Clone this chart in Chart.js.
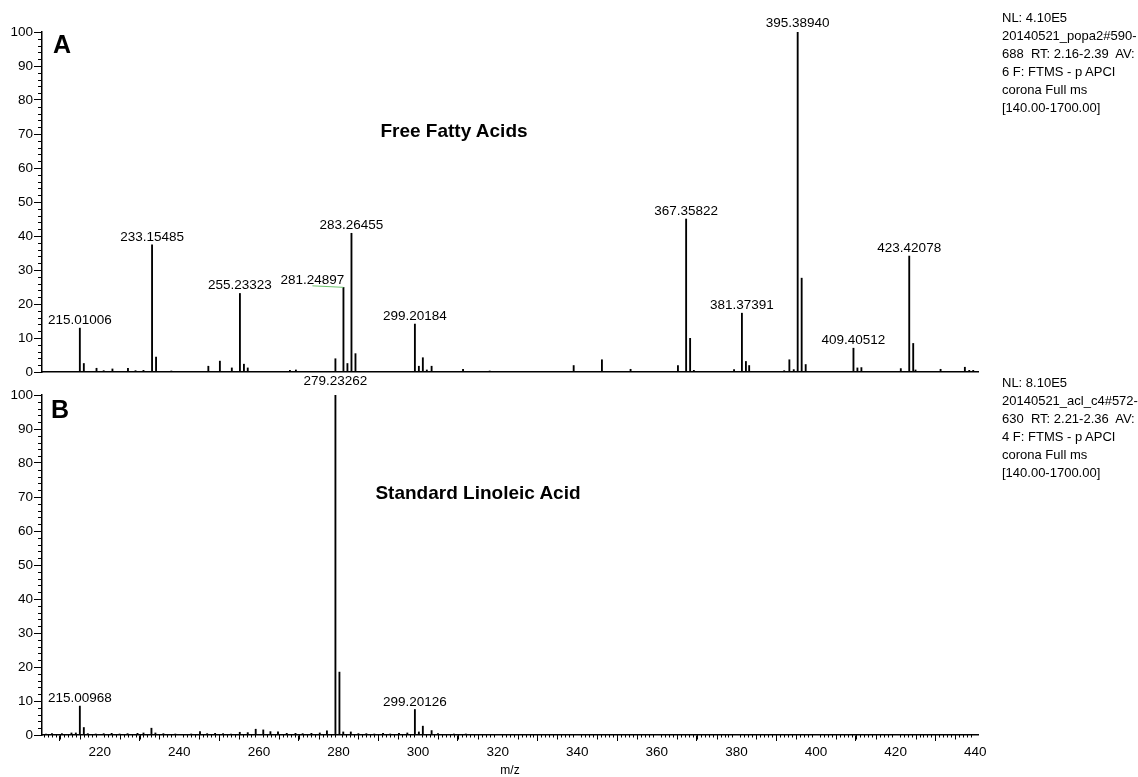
<!DOCTYPE html>
<html><head><meta charset="utf-8">
<script src="https://cdn.jsdelivr.net/npm/chart.js@4.4.1/dist/chart.umd.min.js"></script>
<style>
html,body{margin:0;padding:0;background:#fff;}
body{width:1138px;height:777px;position:relative;overflow:hidden;font-family:"Liberation Sans",Arial,Helvetica,sans-serif;color:#000;}
canvas{position:absolute;left:0;}
.t{position:absolute;white-space:pre;}
.panel{font-weight:bold;font-size:25px;line-height:25px;}
.title{font-weight:bold;font-size:19px;line-height:22px;transform:translateX(-50%);}
.info{font-size:13px;line-height:18px;}
</style></head><body>
<canvas id="cA" width="1138" height="382" style="top:0"></canvas>
<canvas id="cB" width="1138" height="418" style="top:360px"></canvas>
<div class="t panel" style="left:53px;top:32px">A</div>
<div class="t panel" style="left:51px;top:397px">B</div>
<div class="t title" style="left:454px;top:120px">Free Fatty Acids</div>
<div class="t title" style="left:478px;top:482px">Standard Linoleic Acid</div>
<div class="t info" style="left:1002px;top:9px">NL: 4.10E5
20140521_popa2#590-
688  RT: 2.16-2.39  AV:
6 F: FTMS - p APCI
corona Full ms
[140.00-1700.00]</div>
<div class="t info" style="left:1002px;top:374px">NL: 8.10E5
20140521_acl_c4#572-
630  RT: 2.21-2.36  AV:
4 F: FTMS - p APCI
corona Full ms
[140.00-1700.00]</div>
<script>
const X_MIN = 205.5, X_MAX = 440.7;
const xTickVals = [220,240,260,280,300,320,340,360,380,400,420,440];
const yTickVals = [0,10,20,30,40,50,60,70,80,90,100];

// Panel A: Free Fatty Acids (m/z, relative abundance)
const mzA = [215.01006,216.01,219.2,221.0,223.2,227.1,229.0,231.0,233.15485,234.16,238.0,
  247.3,250.2,253.2,255.23323,256.24,257.2,267.8,269.3,279.23,281.24897,282.25,283.26455,284.27,
  299.20184,300.2,301.2,302.2,303.4,311.3,318.0,339.1,346.2,353.4,365.3,367.35822,368.36,369.3,
  379.4,381.37391,382.38,383.2,392.0,393.3,394.4,395.38940,396.39,397.4,409.40512,410.4,411.4,
  421.3,423.42078,424.42,425.0,431.3,437.4,438.5,439.5];
const intA = [12.9,2.5,1.1,0.4,0.9,1.1,0.4,0.5,37.4,4.4,0.3,
  1.7,3.2,1.2,23.1,2.3,1.2,0.5,0.6,3.9,24.9,2.5,40.8,5.4,
  14.1,1.7,4.2,0.6,1.7,0.8,0.3,1.9,3.6,0.8,1.9,45.0,9.9,0.5,
  0.7,17.3,3.1,1.9,0.4,3.6,0.7,100,27.6,2.2,7.0,1.2,1.3,
  1.0,34.1,8.4,0.6,0.8,1.4,0.5,0.5];
const labeledA = [215.01006,233.15485,255.23323,281.24897,283.26455,299.20184,367.35822,381.37391,395.38940,409.40512,423.42078];

// Panel B: Standard Linoleic Acid
const mzB = [206.5,208.0,210.5,212.9,214.0,215.00968,216.01,217.0,219.0,221.0,223.0,225.0,227.0,229.5,231.0,
  233.0,234.0,236.0,239.0,243.0,245.2,247.0,249.0,251.0,253.0,255.2,257.2,259.2,261.1,262.9,264.8,267.0,
  269.2,271.0,273.2,275.3,277.1,279.23262,280.24,281.2,283.1,285.0,287.0,289.0,291.2,293.0,295.2,297.3,
  299.20126,300.2,301.2,303.4,305.0,309.0,312.0];
const intB = [0.3,0.4,0.4,0.6,0.6,8.5,2.2,0.4,0.3,0.4,0.5,0.3,0.4,0.5,0.6,
  2.0,0.6,0.4,0.3,0.3,1.0,0.4,0.5,0.4,0.3,0.8,0.7,1.7,1.5,1.0,0.9,0.5,
  0.5,0.4,0.5,0.6,1.2,100,18.5,0.9,0.9,0.4,0.4,0.3,0.5,0.3,0.5,0.6,
  7.5,0.9,2.6,1.3,0.4,0.3,0.3];
const labeledB = [215.00968,279.23262,299.20126];

const FONT = '"Liberation Sans", Arial, Helvetica, sans-serif';
const labelShift = {'281.24897': -31};
const labelLift = {'279.23262': 10, '395.38940': 5};

const peakLabels = {
  id: 'peakLabels',
  afterDatasetsDraw(chart, args, opts) {
    const ctx = chart.ctx, xs = chart.scales.x, ys = chart.scales.y;
    const mz = opts.mz, inten = opts.inten;
    ctx.save();
    ctx.font = '13.5px ' + FONT;
    ctx.fillStyle = '#000';
    ctx.textAlign = 'center';
    ctx.textBaseline = 'alphabetic';
    opts.labels.forEach(v => {
      const i = mz.indexOf(v);
      const px = xs.getPixelForValue(v), py = ys.getPixelForValue(inten[i]);
      const key = v.toFixed(5);
      const sh = labelShift[key] || 0;
      const lift = labelLift[key] || 4;
      if (sh) {
        ctx.strokeStyle = '#6cc46c'; ctx.lineWidth = 1;
        ctx.beginPath(); ctx.moveTo(px + sh, py - 1.5); ctx.lineTo(px, py); ctx.stroke();
        ctx.fillText(key, px + sh, py - 3.5);
      } else {
        ctx.fillText(key, px, py - lift);
      }
    });
    ctx.restore();
  }
};

const minorTicks = {
  id: 'minorTicks',
  afterDraw(chart, args, opts) {
    const ctx = chart.ctx, xs = chart.scales.x, ys = chart.scales.y;
    const ca = chart.chartArea;
    ctx.save();
    ctx.strokeStyle = '#000'; ctx.lineWidth = 1;
    ctx.beginPath();
    for (let v = 2; v < 100; v += 2) {
      if (v % 10 === 0) continue;
      const y = Math.round(ys.getPixelForValue(v)) + 0.5;
      ctx.moveTo(ca.left - 4, y); ctx.lineTo(ca.left, y);
    }
    if (opts.x) {
      for (let v = Math.ceil(X_MIN); v <= Math.floor(X_MAX); v++) {
        if (v % 20 === 0) continue;
        const x = Math.round(xs.getPixelForValue(v)) + 0.5;
        const len = (v % 5 === 0) ? 4.5 : 2.5;
        ctx.moveTo(x, ca.bottom); ctx.lineTo(x, ca.bottom + len);
      }
    }
    ctx.stroke();
    ctx.restore();
  }
};

function makeChart(id, mz, inten, labels, showX, padTop, xAxisH) {
  return new Chart(document.getElementById(id), {
    type: 'bar',
    data: { datasets: [{
      data: mz.map((m, i) => ({x: m, y: inten[i]})),
      backgroundColor: '#000', borderWidth: 0, barThickness: 1.2, grouped: false
    }]},
    options: {
      responsive: false, animation: false, devicePixelRatio: 1,
      layout: { padding: { left: 0, right: 160, top: padTop, bottom: 0 } },
      plugins: {
        legend: {display: false}, tooltip: {enabled: false},
        peakLabels: {mz: mz, inten: inten, labels: labels},
        minorTicks: {x: showX}
      },
      scales: {
        x: {
          type: 'linear', min: X_MIN, max: X_MAX, offset: false,
          afterBuildTicks: s => { s.ticks = xTickVals.map(v => ({value: v})); },
          afterFit: s => { s.height = xAxisH; },
          grid: {display: showX, drawOnChartArea: false, drawTicks: true, tickLength: 6, tickColor: '#000', tickWidth: 1},
          border: {display: true, color: '#000', width: 1.5},
          ticks: {display: showX, color: '#000', font: {family: FONT, size: 13.5}, maxRotation: 0, autoSkip: false, padding: 3},
          title: {display: showX, text: 'm/z', color: '#000', font: {family: FONT, size: 12}, padding: {top: 0, bottom: 0}}
        },
        y: {
          min: 0, max: 100,
          afterBuildTicks: s => { s.ticks = yTickVals.map(v => ({value: v})); },
          afterFit: s => { s.width = 42; },
          grid: {display: true, drawOnChartArea: false, drawTicks: true, tickLength: 8, tickColor: '#000', tickWidth: 1},
          border: {display: true, color: '#000', width: 1.5},
          ticks: {color: '#000', font: {family: FONT, size: 13.5}, padding: 1}
        }
      }
    },
    plugins: [peakLabels, minorTicks]
  });
}

makeChart('cA', mzA, intA, labeledA, false, 32, 10);
makeChart('cB', mzB, intB, labeledB, true, 35, 43);
</script>
</body></html>
